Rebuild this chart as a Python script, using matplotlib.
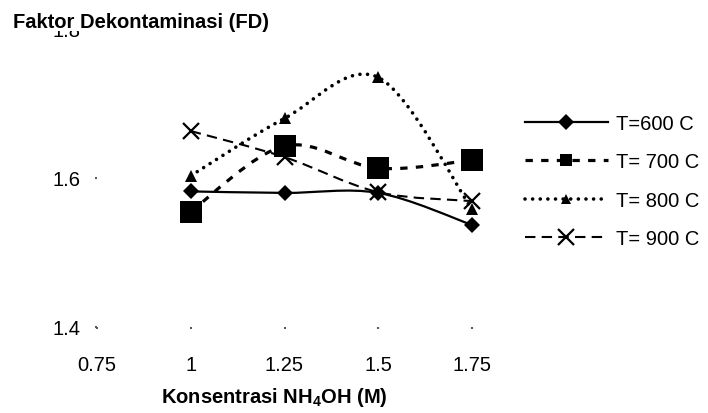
import numpy as np
import matplotlib
matplotlib.use('Agg')
import matplotlib.pyplot as plt
from matplotlib.path import Path
from matplotlib.patches import PathPatch
from matplotlib.lines import Line2D

plt.rcParams['font.family'] = ['Liberation Sans', 'DejaVu Sans']
plt.rcParams['mathtext.fontset'] = 'custom'
plt.rcParams['mathtext.rm'] = 'Liberation Sans'
plt.rcParams['mathtext.bf'] = 'Liberation Sans:bold'

# data
konsentrasi = [1.0, 1.25, 1.5, 1.75]
fd_600 = [1.582, 1.580, 1.580, 1.537]
fd_700 = [1.555, 1.643, 1.613, 1.624]
fd_800 = [1.603, 1.680, 1.735, 1.558]
fd_900 = [1.663, 1.628, 1.581, 1.569]
labels = ['T=600 C', 'T= 700 C', 'T= 800 C', 'T= 900 C']
xticks = [0.75, 1, 1.25, 1.5, 1.75]
yticks = [1.4, 1.6, 1.8]


def smooth_path(x, y):
    # excel style smoothed line (bezier through the points)
    p = np.column_stack([x, y])
    n = len(p)
    verts = [p[0]]
    codes = [Path.MOVETO]
    for i in range(n - 1):
        p0 = p[i - 1] if i > 0 else p[i]
        p3 = p[i + 2] if i + 2 < n else p[i + 1]
        c1 = p[i] + (p[i + 1] - p0) / 6.0
        c2 = p[i + 1] - (p3 - p[i]) / 6.0
        verts += [c1, c2, p[i + 1]]
        codes += [Path.CURVE4] * 3
    return Path(verts, codes)


styles = [
    dict(ls='-', lw=1.6, cap='round', marker='D', ms=8, lms=8, mew=0),
    dict(ls=(0, (2.3, 2.6)), lw=2.3, cap='butt', marker='s', ms=16, lms=9, mew=0),
    dict(ls=(0, (0.01, 2.1)), lw=2.6, cap='round', marker='^', ms=8, lms=7, mew=0),
    dict(ls=(0, (5, 3)), lw=1.5, cap='butt', marker='x', ms=11, lms=11, mew=1.6),
]

fig = plt.figure(figsize=(7.08, 4.14), dpi=100)
ax = fig.add_axes([97 / 708, 1 - 328 / 414, 375 / 708, 298 / 414])

handles = []
for vals, st, lab in zip([fd_600, fd_700, fd_800, fd_900], styles, labels):
    patch = PathPatch(smooth_path(konsentrasi, vals), fill=False, edgecolor='black',
                      linewidth=st['lw'], linestyle=st['ls'], capstyle=st['cap'],
                      clip_on=False)
    ax.add_patch(patch)
    ax.plot(konsentrasi, vals, ls='none', marker=st['marker'], ms=st['ms'],
            color='black', mew=st['mew'], clip_on=False, zorder=3)
    h = Line2D([], [], color='black', linestyle=st['ls'], lw=st['lw'],
               marker=st['marker'], ms=st['lms'], mew=st['mew'])
    h.set_dash_capstyle(st['cap'])
    handles.append(h)

ax.set_xlim(0.75, 1.75)
ax.set_ylim(1.4, 1.8)
ax.set_xticks(xticks)
ax.set_xticklabels(['0.75', '1', '1.25', '1.5', '1.75'])
ax.set_yticks(yticks)
ax.set_yticklabels(['1.4', '1.6', '1.8'])
for s in ax.spines.values():
    s.set_visible(False)
ax.tick_params(axis='both', direction='out', length=1.2, width=1.5, color='0.35',
               labelsize=14.5)
ax.tick_params(axis='x', pad=19)
ax.tick_params(axis='y', pad=11)

fig.text(13 / 708, 1 - 22 / 414, 'Faktor Dekontaminasi (FD)', fontsize=14.5,
         fontweight='bold', va='center', ha='left', zorder=5,
         bbox=dict(facecolor='white', edgecolor='none', pad=0.5))
fig.text(274 / 708, 1 - 398 / 414, r'Konsentrasi NH$_\mathbf{4}$OH (M)', fontsize=14.5,
         fontweight='bold', va='center', ha='center')

fig.legend(handles, labels, loc='upper left', bbox_to_anchor=(525 / 708, 1 - 115 / 414),
           frameon=False, fontsize=14.5, handlelength=4.1, handletextpad=0.4,
           labelspacing=0.96, borderpad=0, borderaxespad=0)

plt.savefig('out.png', dpi=100)
